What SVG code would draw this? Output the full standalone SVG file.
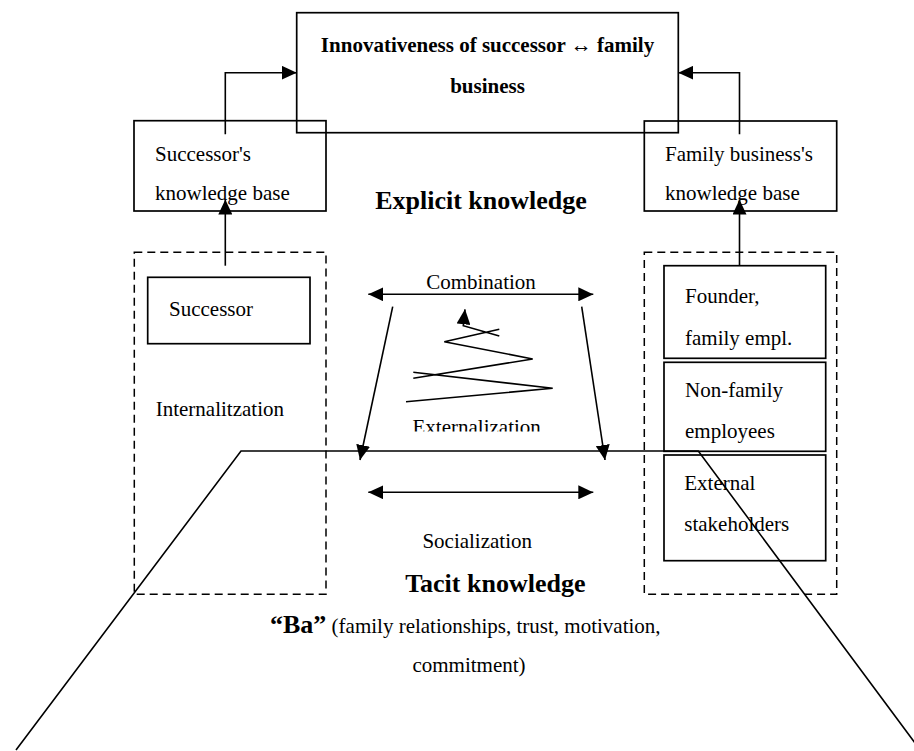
<svg xmlns="http://www.w3.org/2000/svg" width="914" height="751" viewBox="0 0 914 751">
<style>
  .box{fill:none;stroke:#000;stroke-width:1.7}
  .dash{fill:none;stroke:#000;stroke-width:1.5;stroke-dasharray:8 5}
  .ln{fill:none;stroke:#000;stroke-width:1.6}
  .t{font-family:"Liberation Serif","Times New Roman",serif;font-size:21px;fill:#000}
  .b{font-family:"Liberation Serif","Times New Roman",serif;font-weight:bold;fill:#000}
</style>
<defs>
  <marker id="ah" markerUnits="userSpaceOnUse" markerWidth="15" markerHeight="14" refX="15" refY="7" orient="auto-start-reverse" viewBox="0 0 15 14">
    <path d="M0,0 L15,7 L0,14 z" fill="#000"/>
  </marker>
  <clipPath id="extclip"><rect x="380" y="400" width="200" height="31.5"/></clipPath>
</defs>
<rect width="914" height="751" fill="#fff"/>

<g id="innovativeness">
  <rect class="box" x="296.7" y="12.7" width="381.6" height="120"/>
  <text class="b" font-size="21" x="487.5" y="52.3" text-anchor="middle">Innovativeness of successor ↔ family</text>
  <text class="b" font-size="21" x="487.5" y="92.5" text-anchor="middle">business</text>
</g>

<g id="successor-kb">
  <rect class="box" x="134" y="120.7" width="192" height="90.3"/>
  <text class="t" x="155" y="160.7">Successor's</text>
  <text class="t" x="155" y="200">knowledge base</text>
</g>

<g id="family-kb">
  <rect class="box" x="644.3" y="121" width="192.4" height="90"/>
  <text class="t" x="665" y="160.7">Family business's</text>
  <text class="t" x="665" y="200">knowledge base</text>
</g>

<g id="explicit-label">
  <text class="b" font-size="26" x="481" y="209" text-anchor="middle">Explicit knowledge</text>
</g>

<g id="successor-group">
  <rect class="dash" x="134.3" y="252.3" width="191.7" height="342"/>
  <rect class="box" x="147.7" y="277.3" width="162.3" height="66.4"/>
  <text class="t" x="169" y="316">Successor</text>
  <text class="t" x="155.7" y="415.7">Internalitzation</text>
</g>

<g id="family-group">
  <rect class="dash" x="644.3" y="252.3" width="192.4" height="342"/>
  <g id="founder">
    <rect class="box" x="664" y="265.7" width="161.7" height="92.6"/>
    <text class="t" x="685" y="303">Founder,</text>
    <text class="t" x="685" y="345">family empl.</text>
  </g>
  <g id="non-family">
    <rect class="box" x="664" y="362.3" width="161.7" height="89"/>
    <text class="t" x="685" y="396.7">Non-family</text>
    <text class="t" x="685" y="438">employees</text>
  </g>
  <g id="external">
    <rect class="box" x="664" y="455" width="161.7" height="105.7"/>
    <text class="t" x="684.3" y="490">External</text>
    <text class="t" x="684.3" y="530.7">stakeholders</text>
  </g>
</g>

<g id="conversion-labels">
  <text class="t" x="481" y="289.3" text-anchor="middle">Combination</text>
  <text class="t" x="476.7" y="433.5" text-anchor="middle" clip-path="url(#extclip)">Externalization</text>
  <text class="t" x="477.2" y="548.3" text-anchor="middle">Socialization</text>
</g>

<g id="tacit-label">
  <text class="b" font-size="26" x="495.3" y="591.7" text-anchor="middle">Tacit knowledge</text>
</g>

<g id="ba-label">
  <text x="270" y="633.3"><tspan class="b" font-size="26">“Ba”</tspan><tspan class="t"> (family relationships, trust, motivation,</tspan></text>
  <text class="t" x="469" y="671.7" text-anchor="middle">commitment)</text>
</g>

<g id="connectors">
  <path class="ln" d="M225.3,134.3 V72.7 H296.7" marker-end="url(#ah)"/>
  <path class="ln" d="M739.5,134.3 V72.7 H678.3" marker-end="url(#ah)"/>
  <path class="ln" d="M225.3,265.7 V199.5" marker-end="url(#ah)"/>
  <path class="ln" d="M739.5,265.7 V199.5" marker-end="url(#ah)"/>
  <path class="ln" d="M368.3,294.3 H593.3" marker-start="url(#ah)" marker-end="url(#ah)"/>
  <path class="ln" stroke-width="2" d="M368.3,492.3 H593.3" marker-start="url(#ah)" marker-end="url(#ah)"/>
  <path class="ln" d="M392.7,306.7 L360,460" marker-end="url(#ah)"/>
  <path class="ln" d="M581.7,306.7 L605,460" marker-end="url(#ah)"/>
  <path class="ln" d="M406,401.7 L552.7,388.3 L413.3,372.3 M413.3,378.3 L532.7,359 L444.3,341.7 L499.3,329.3 M499.3,336 L463.3,325.7 L465,309.3" marker-end="url(#ah)"/>
  <path class="ln" stroke-width="1.4" d="M16,750 L241,451 L698.3,451 L921,751"/>
</g>
</svg>
